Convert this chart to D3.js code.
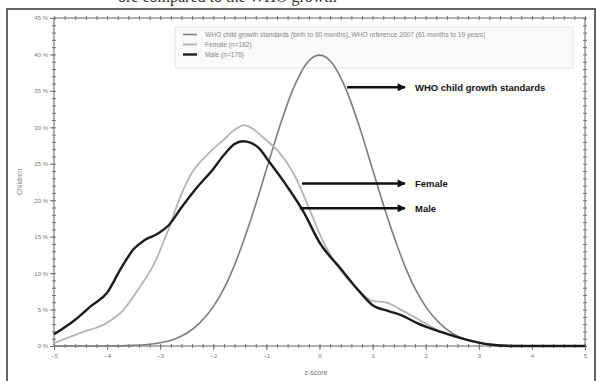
<!DOCTYPE html>
<html>
<head>
<meta charset="utf-8">
<script src="https://cdn.jsdelivr.net/npm/d3@7"></script>
<style>
  body { margin: 0; background: #fff; }
  svg { display: block; font-family: "Liberation Sans", Arial, sans-serif; }
</style>
</head>
<body>
<div id="chart"></div>
<script>
// z-score grid and values (% of children)
var whoZ   = [-5, -4, -3.5, -3.25, -3, -2.75, -2.5, -2.25, -2, -1.75, -1.5, -1.25, -1, -0.75, -0.5, -0.25, 0,
              0.25, 0.5, 0.75, 1, 1.25, 1.5, 1.75, 2, 2.25, 2.5, 2.75, 3, 3.25, 3.5, 4, 5];
var whoPct = [0, 0.01, 0.09, 0.2, 0.44, 0.9, 1.75, 3.2, 5.4, 8.6, 13.0, 18.3, 24.2, 30.1, 35.2, 38.7, 39.9,
              38.7, 35.2, 30.1, 24.2, 18.3, 13.0, 8.6, 5.4, 3.2, 1.75, 0.9, 0.44, 0.2, 0.09, 0.01, 0];

var femaleZ   = [-5, -4.5, -4, -3.7, -3.4, -3.1, -2.87, -2.63, -2.44, -2.12, -1.82, -1.55, -1.42, -1.3, -1.06,
                 -0.74, -0.6, -0.42, -0.18, 0.05, 0.3, 0.7, 1.0, 1.25, 1.5, 1.85, 2.2, 2.8, 3.2, 3.6, 5];
var femalePct = [0.4, 1.8, 3.2, 4.9, 7.9, 11.5, 15.5, 20.3, 23.3, 26.2, 28.2, 29.9, 30.3, 30.0, 28.6,
                 26.4, 25.0, 22.7, 18.6, 14.6, 11.4, 7.9, 6.2, 6.0, 5.1, 3.7, 2.3, 0.8, 0.2, 0, 0];

var maleZ   = [-5, -4.6, -4.3, -4, -3.75, -3.5, -3.3, -3.05, -2.85, -2.6, -2.3, -2.0, -1.8, -1.6, -1.45, -1.3,
               -1.15, -0.95, -0.6, -0.3, 0, 0.4, 0.75, 1.0, 1.3, 1.55, 1.85, 2.3, 2.8, 3.2, 3.6, 5];
var malePct = [1.6, 3.6, 5.5, 7.3, 10.5, 13.3, 14.5, 15.4, 16.5, 19.0, 21.8, 24.3, 26.2, 27.7, 28.1, 27.9,
               27.2, 25.3, 21.8, 18.4, 14.2, 10.6, 7.5, 5.6, 4.8, 4.2, 3.1, 1.9, 0.8, 0.2, 0, 0];

var xTicks = [-5, -4, -3, -2, -1, 0, 1, 2, 3, 4, 5];
var yTicks = [0, 5, 10, 15, 20, 25, 30, 35, 40, 45];

var legendLabels = ["WHO child growth standards (birth to 60 months), WHO reference 2007 (61 months to 19 years)",
                    "Female (n=162)", "Male (n=176)"];
var calloutLabels = ["WHO child growth standards", "Female", "Male"];
// arrow start z, y level (%), for each callout
var calloutStartZ = [0.52, -0.33, -0.37];
var calloutPct    = [35.5, 22.3, 18.9];
var calloutEndZ = 1.61;

var W = 597, H = 381;
var plotLeft = 54, plotRight = 585, plotTop = 18, plotBottom = 346;

var svg = d3.select('#chart').append('svg')
  .attr('width', W)
  .attr('height', H);

svg.append('rect').attr('width', W).attr('height', H).attr('fill', '#fff');

// cut-off caption text above the frame
svg.append('text')
  .attr('x', 118).attr('y', 2)
  .style('font-family', '"Liberation Serif", serif')
  .style('font-size', '16px')
  .attr('fill', '#333')
  .text('ore compared to the WHO growth');

// outer frame
svg.append('rect')
  .attr('x', 7).attr('y', 9)
  .attr('width', 588).attr('height', 380)
  .attr('fill', 'none')
  .attr('stroke', '#333')
  .attr('stroke-width', 1.5);

var x = d3.scaleLinear().domain([-5, 5]).range([plotLeft, plotRight]);
var y = d3.scaleLinear().domain([0, 45]).range([plotBottom, plotTop]);

var axisColour = '#777';

function styleAxis(g){
  g.select('.domain').remove();
  g.selectAll('line').attr('stroke', axisColour);
  g.selectAll('text').attr('fill', '#777').style('font-size', '6px');
}

var xMinor = d3.range(-5, 5.01, 0.2);
var yMinor = d3.range(0, 45.01, 1);

// minor ticks straddle each frame side
svg.append('g').attr('transform', 'translate(0,' + (plotBottom - 2) + ')')
  .call(d3.axisBottom(x).tickValues(xMinor).tickSize(4).tickFormat(''))
  .call(styleAxis);
svg.append('g').attr('transform', 'translate(0,' + plotBottom + ')')
  .call(d3.axisBottom(x).tickValues(xTicks).tickSize(4).tickPadding(4).tickFormat(d3.format('d')))
  .call(styleAxis);

svg.append('g').attr('transform', 'translate(0,' + (plotTop + 2) + ')')
  .call(d3.axisTop(x).tickValues(xMinor).tickSize(4).tickFormat(''))
  .call(styleAxis);

svg.append('g').attr('transform', 'translate(' + (plotLeft + 2) + ',0)')
  .call(d3.axisLeft(y).tickValues(yMinor).tickSize(4).tickFormat(''))
  .call(styleAxis);
svg.append('g').attr('transform', 'translate(' + plotLeft + ',0)')
  .call(d3.axisLeft(y).tickValues(yTicks).tickSize(4).tickPadding(2).tickFormat(function(d){ return d + ' %'; }))
  .call(styleAxis);

svg.append('g').attr('transform', 'translate(' + (plotRight - 2) + ',0)')
  .call(d3.axisRight(y).tickValues(yMinor).tickSize(4).tickFormat(''))
  .call(styleAxis);

// plot frame
svg.append('rect')
  .attr('x', plotLeft).attr('y', plotTop)
  .attr('width', plotRight - plotLeft).attr('height', plotBottom - plotTop)
  .attr('fill', 'none')
  .attr('stroke', '#666')
  .attr('stroke-width', 1);

// axis titles
svg.append('text')
  .attr('transform', 'translate(22,' + y(22.5) + ') rotate(-90)')
  .attr('text-anchor', 'middle')
  .attr('fill', '#888')
  .style('font-size', '7px')
  .text('Children');

svg.append('text')
  .attr('x', 316).attr('y', 375)
  .attr('text-anchor', 'middle')
  .attr('fill', '#777')
  .style('font-size', '7px')
  .text('z-score');

// legend
svg.append('rect')
  .attr('x', 175).attr('y', 27)
  .attr('width', 398).attr('height', 41)
  .attr('fill', '#fafafa')
  .attr('stroke', '#e6e6e6');

var series = [
  {z: whoZ, v: whoPct, colour: '#7d7d7d', width: 1.6},
  {z: femaleZ, v: femalePct, colour: '#b4b4b4', width: 1.8},
  {z: maleZ, v: malePct, colour: '#1c1c1c', width: 2.4}
];

series.forEach(function(s, i){
  var ly = 34.5 + i * 10;
  svg.append('line')
    .attr('x1', 183).attr('x2', 197)
    .attr('y1', ly).attr('y2', ly)
    .attr('stroke', s.colour)
    .attr('stroke-width', s.width);
  svg.append('text')
    .attr('x', 205).attr('y', ly + 2.3)
    .attr('fill', '#888')
    .style('font-size', '6.6px')
    .text(legendLabels[i]);
});

// curves
var line = d3.line()
  .x(function(d){ return x(d[0]); })
  .y(function(d){ return y(d[1]); })
  .curve(d3.curveMonotoneX);

series.forEach(function(s){
  svg.append('path')
    .datum(d3.zip(s.z, s.v))
    .attr('d', line)
    .attr('fill', 'none')
    .attr('stroke', s.colour)
    .attr('stroke-width', s.width)
    .attr('stroke-linejoin', 'round');
});

// callout arrows
svg.append('defs').append('marker')
  .attr('id', 'arrow')
  .attr('viewBox', '0 0 10 10')
  .attr('refX', 9).attr('refY', 5)
  .attr('markerWidth', 4).attr('markerHeight', 3.4)
  .attr('markerUnits', 'strokeWidth')
  .attr('orient', 'auto')
  .append('path')
  .attr('d', 'M0,0 L10,5 L0,10 z')
  .attr('fill', '#111');

calloutLabels.forEach(function(label, i){
  var cy = y(calloutPct[i]);
  svg.append('line')
    .attr('x1', x(calloutStartZ[i])).attr('x2', x(calloutEndZ))
    .attr('y1', cy).attr('y2', cy)
    .attr('stroke', '#111')
    .attr('stroke-width', 2.4)
    .attr('marker-end', 'url(#arrow)');
  svg.append('text')
    .attr('x', x(calloutEndZ) + 10).attr('y', cy + 3.3)
    .attr('fill', '#111')
    .style('font-size', '9.5px')
    .style('font-weight', 'bold')
    .text(label);
});
</script>
</body>
</html>
